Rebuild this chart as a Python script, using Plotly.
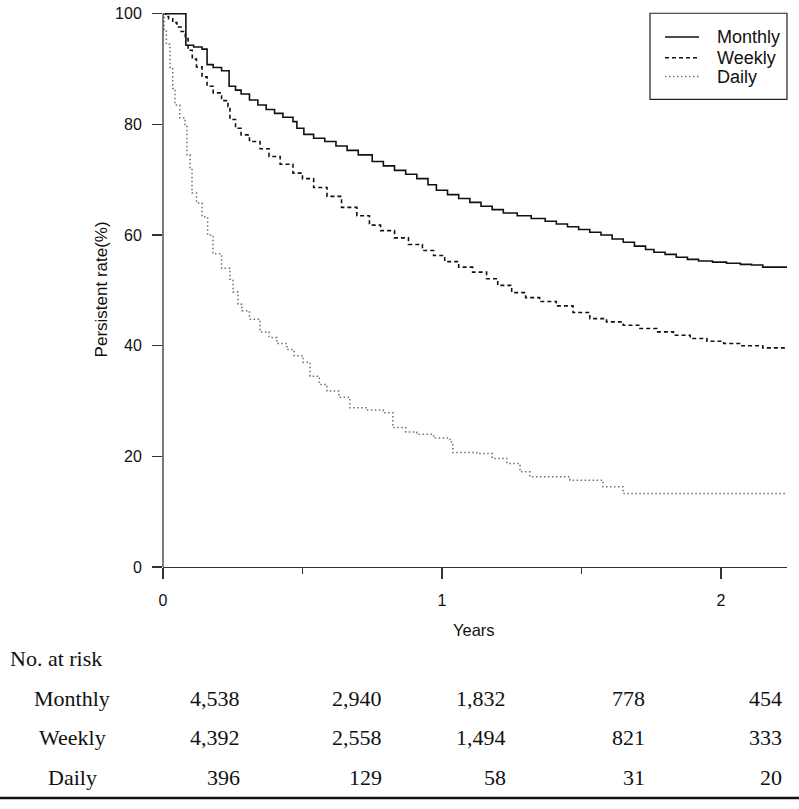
import plotly.graph_objects as go

# ---------------- data ----------------
monthly_t = [0, 0.082, 0.11, 0.14, 0.158, 0.18, 0.21, 0.237, 0.26, 0.28, 0.31, 0.34, 0.37, 0.40, 0.43,
             0.466, 0.48, 0.505, 0.54, 0.58, 0.62, 0.66, 0.70, 0.75, 0.79, 0.83, 0.87, 0.91, 0.95, 0.98,
             1.02, 1.06, 1.10, 1.14, 1.18, 1.22, 1.27, 1.32, 1.37, 1.41, 1.45, 1.49, 1.53, 1.57, 1.61,
             1.65, 1.69, 1.73, 1.76, 1.80, 1.84, 1.88, 1.92, 1.97, 2.02, 2.07, 2.11, 2.15, 2.237]
monthly_s = [100, 94.3, 94.0, 93.6, 90.8, 90.3, 89.7, 86.9, 86.2, 85.5, 84.4, 83.5, 82.7, 82.0, 81.3,
             80.5, 79.3, 78.2, 77.5, 76.9, 76.1, 75.3, 74.5, 73.3, 72.5, 71.7, 71.0, 70.2, 69.1, 68.1,
             67.3, 66.6, 65.9, 65.2, 64.6, 64.0, 63.5, 63.0, 62.5, 62.0, 61.5, 61.0, 60.5, 60.0, 59.3,
             58.7, 58.0, 57.4, 56.9, 56.5, 56.0, 55.6, 55.3, 55.1, 54.9, 54.7, 54.6, 54.2, 54.2]

weekly_t = [0, 0.01, 0.02, 0.035, 0.05, 0.065, 0.08, 0.09, 0.105, 0.12, 0.14, 0.158, 0.18, 0.21, 0.233,
            0.24, 0.26, 0.28, 0.31, 0.348, 0.38, 0.42, 0.466, 0.50, 0.54, 0.588, 0.64, 0.695, 0.74, 0.78,
            0.83, 0.88, 0.93, 0.97, 1.01, 1.06, 1.11, 1.16, 1.20, 1.25, 1.30, 1.35, 1.41, 1.47, 1.53,
            1.59, 1.65, 1.71, 1.77, 1.83, 1.89, 1.95, 2.01, 2.07, 2.15, 2.237]
weekly_s = [100, 99.5, 99.1, 98.4, 97.6, 96.8, 95.5, 93.4, 91.8, 90.4, 88.6, 86.9, 85.7, 84.3, 83.2,
            80.9, 79.3, 78.1, 76.9, 75.6, 74.2, 72.8, 71.2, 70.2, 68.6, 67.0, 65.0, 63.5, 61.8, 60.8,
            59.5, 58.3, 57.2, 56.3, 55.2, 54.2, 53.3, 52.1, 50.9, 49.6, 48.7, 48.0, 47.2, 46.0, 44.9,
            44.3, 43.7, 43.1, 42.5, 41.9, 41.3, 40.8, 40.4, 40.0, 39.6, 39.5]

daily_t = [0, 0.004, 0.012, 0.025, 0.035, 0.043, 0.06, 0.079, 0.086, 0.097, 0.104, 0.12, 0.14, 0.16,
           0.179, 0.21, 0.24, 0.251, 0.269, 0.283, 0.31, 0.348, 0.38, 0.408, 0.444, 0.47, 0.502, 0.527,
           0.56, 0.588, 0.63, 0.67, 0.73, 0.789, 0.824, 0.87, 0.91, 0.97, 1.029, 1.039, 1.125, 1.18,
           1.233, 1.28, 1.315, 1.459, 1.577, 1.649, 2.237]
daily_s = [100, 97.0, 94.5, 90.3, 86.5, 83.5, 81.2, 79.8, 74.5, 72.0, 67.6, 65.8, 63.3, 60.0,
           56.6, 54.0, 52.0, 49.7, 47.5, 46.3, 44.8, 42.5, 41.5, 40.4, 39.3, 38.2, 37.0, 34.5,
           33.0, 31.8, 30.7, 28.8, 28.4, 27.9, 25.2, 24.4, 24.0, 23.3, 22.6, 20.7, 20.5, 19.6,
           18.7, 17.2, 16.3, 15.7, 14.5, 13.3, 13.3]

series_names = ["Monthly", "Weekly", "Daily"]
risk_monthly = ["4,538", "2,940", "1,832", "778", "454"]
risk_weekly = ["4,392", "2,558", "1,494", "821", "333"]
risk_daily = ["396", "129", "58", "31", "20"]

x_tickvals = [0, 1, 2]
x_minor_ticks = [0.5, 1.5]
y_tickvals = [0, 20, 40, 60, 80, 100]

# ---------------- layout geometry (pixels) ----------------
W, H = 799, 809
ML, MR = 163, 12
PLOT_BOTTOM = 567.5
Y_TOP100 = 8.5
YMAX = 100.5
PH = (PLOT_BOTTOM - Y_TOP100) * YMAX / 100.0
MT = PLOT_BOTTOM - PH
MB = H - PLOT_BOTTOM
PW = W - ML - MR


def px_x(px):
    return (px - ML) / PW


def px_y(py):
    return (PLOT_BOTTOM - py) / PH


SANS = "Liberation Sans, Arial, sans-serif"
SERIF = "Liberation Serif, Times New Roman, serif"

styles = [
    dict(color="#111111", width=1.6, dash="solid"),
    dict(color="#111111", width=1.6, dash="4px,3px"),
    dict(color="#707070", width=1.5, dash="1.5px,2.5px"),
]
series_t = [monthly_t, weekly_t, daily_t]
series_s = [monthly_s, weekly_s, daily_s]

fig = go.Figure()
for name, t, s, st in zip(series_names, series_t, series_s, styles):
    fig.add_trace(go.Scatter(x=t, y=s, mode="lines", name=name, showlegend=False,
                             line=dict(color=st["color"], width=st["width"], shape="hv",
                                       dash=st["dash"])))

annotations = []
shapes = []

# axis titles
annotations.append(dict(text="Persistent rate(%)", xref="paper", yref="paper",
                        x=px_x(101), y=px_y(287), xanchor="center", yanchor="middle",
                        textangle=-90, showarrow=False,
                        font=dict(family=SANS, size=17, color="#111")))
annotations.append(dict(text="Years", xref="paper", yref="paper",
                        x=px_x(474), y=px_y(631), xanchor="center", yanchor="middle",
                        showarrow=False, font=dict(family=SANS, size=16.5, color="#111")))

# legend (box, samples, labels)
shapes.append(dict(type="rect", xref="paper", yref="paper",
                   x0=px_x(650), x1=px_x(787), y0=px_y(95), y1=px_y(8),
                   line=dict(color="#222", width=1.2), fillcolor="white", layer="above"))
legend_rows = [32, 53, 72]
for name, st, ry in zip(series_names, styles, legend_rows):
    shapes.append(dict(type="line", xref="paper", yref="paper",
                       x0=px_x(665), x1=px_x(699), y0=px_y(ry), y1=px_y(ry),
                       line=dict(color=st["color"], width=st["width"], dash=st["dash"]),
                       layer="above"))
    annotations.append(dict(text=name, xref="paper", yref="paper",
                            x=px_x(715), y=px_y(ry), xanchor="left", yanchor="middle",
                            showarrow=False, font=dict(family=SANS, size=18, color="#111")))

# risk table
annotations.append(dict(text="No. at risk", xref="paper", yref="paper",
                        x=px_x(8), y=px_y(660), xanchor="left", yanchor="middle",
                        showarrow=False, font=dict(family=SERIF, size=22, color="#111")))
col_right = [242, 384, 508, 647, 784]
rows = [(series_names[0], risk_monthly, 700), (series_names[1], risk_weekly, 740),
        (series_names[2], risk_daily, 780)]
for label, vals, ypx in rows:
    annotations.append(dict(text=label, xref="paper", yref="paper",
                            x=px_x(72), y=px_y(ypx), xanchor="center", yanchor="middle",
                            showarrow=False, font=dict(family=SERIF, size=22, color="#111")))
    for v, cx in zip(vals, col_right):
        annotations.append(dict(text=v, xref="paper", yref="paper",
                                x=px_x(cx), y=px_y(ypx), xanchor="right", yanchor="middle",
                                showarrow=False, font=dict(family=SERIF, size=22, color="#111")))

# y axis line from 0 to 100
shapes.append(dict(type="line", xref="paper", yref="y", x0=0, x1=0, y0=0, y1=100,
                   line=dict(color="#333", width=1.3)))
# bottom rule
shapes.append(dict(type="line", xref="paper", yref="paper", x0=px_x(0), x1=px_x(799),
                   y0=px_y(801), y1=px_y(801), line=dict(color="#111", width=2.5)))

fig.update_layout(
    width=W, height=H,
    margin=dict(l=ML, r=MR, t=MT, b=MB, pad=0),
    paper_bgcolor="white", plot_bgcolor="white",
    font=dict(family=SANS, size=16, color="#111"),
    showlegend=False,
    xaxis=dict(range=[0, 2.237], showgrid=False, zeroline=False,
               showline=True, linecolor="#333", linewidth=1.3,
               ticks="outside", ticklen=11, tickwidth=1.3, tickcolor="#333",
               tickvals=x_tickvals, ticktext=[str(v) for v in x_tickvals],
               tickfont=dict(family=SANS, size=16, color="#111"),
               ticklabelstandoff=7,
               minor=dict(tickvals=x_minor_ticks, ticks="outside", ticklen=6,
                          tickwidth=1.3, tickcolor="#333", showgrid=False)),
    yaxis=dict(range=[0, YMAX], showgrid=False, zeroline=False, showline=False,
               ticks="outside", ticklen=10, tickwidth=1.3, tickcolor="#333",
               tickvals=y_tickvals, ticktext=[str(v) for v in y_tickvals],
               tickfont=dict(family=SANS, size=16, color="#111"),
               ticklabelstandoff=7),
    annotations=annotations,
    shapes=shapes,
)

fig.write_html("out.html",
               config={"displayModeBar": False, "staticPlot": True},
               post_script="document.body.style.margin='0';document.body.style.padding='0';"
                           "document.documentElement.style.overflow='hidden';")
